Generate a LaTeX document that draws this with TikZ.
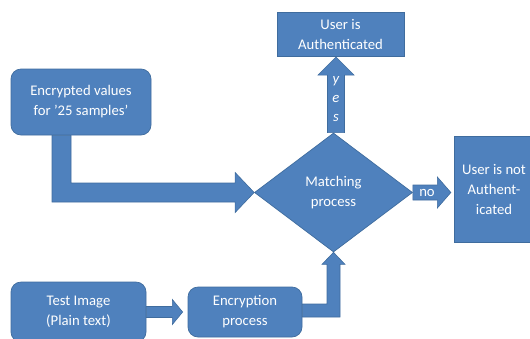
\documentclass[tikz,border=0pt]{standalone}
\usepackage{fontspec}
\setmainfont{Carlito}
\usetikzlibrary{shapes.geometric,calc,backgrounds}
\definecolor{boxfill}{HTML}{4F81BD}
\definecolor{boxline}{HTML}{3F6C9E}
\begin{document}
\begin{tikzpicture}[x=1pt,y=-1pt,
  every node/.style={font=\fontsize{14.7}{20}\selectfont, text=white, align=center, inner sep=0pt},
  blockbox/.style={fill=boxfill, draw=boxline, line width=0.7pt},
  roundbox/.style={blockbox, rectangle, rounded corners=10pt},
  sqbox/.style={blockbox, rectangle},
  blockarrow/.style={fill=boxfill, draw=boxline, line width=0.6pt, line join=miter}]
\useasboundingbox (0,0) rectangle (530,338);

% boxes
\node[roundbox, minimum width=140pt, minimum height=66pt] (enc) at (81,102) {Encrypted values\\for ’25 samples’};
\node[sqbox, minimum width=127pt, minimum height=44pt] (auth) at (340.5,34.7) {User is\\Authenticated};
\node[blockbox, diamond, minimum width=158pt, minimum height=119pt] (dia) at (333.5,192.5) {Matching\\process};
\node[sqbox, minimum width=80pt, minimum height=106pt] (notauth) at (494,189) {User is not\\Authent-\\icated};
\node[roundbox, minimum width=135pt, minimum height=60pt] (test) at (78.5,312) {Test Image\\(Plain text)};
\node[roundbox, minimum width=114pt, minimum height=50pt] (encp) at (245,312) {Encryption\\process};

% helper coordinates
\coordinate (e1) at ($(enc.south)+(-29,0)$);
\coordinate (e2) at ($(enc.south)+(-10,0)$);
\coordinate (a1) at ($(dia.west)+(-19,9.5)$);
\coordinate (a2) at ($(dia.west)+(-19,20)$);
\coordinate (a3) at ($(dia.west)+(-19,-20)$);
\coordinate (a4) at ($(dia.west)+(-19,-9.5)$);

\coordinate (yb) at ($(dia.north)+(2.5,0)$);
\coordinate (yt) at (yb |- auth.south);
\coordinate (yh) at ($(yt)+(0,18)$);

\coordinate (ub) at ($(dia.south)+(0,12)$);
\coordinate (ubl) at ($(ub)+(-6.5,0)$);
\coordinate (ubr) at ($(ub)+(6.5,0)$);
\coordinate (ua) at ($(encp.east)+(0,-8)$);
\coordinate (uc) at ($(encp.east)+(0,5)$);

\begin{scope}[on background layer]
% encrypted values -> matching
\filldraw[blockarrow] (e1) -- (e1 |- a1) -- (a1) -- (a2) -- (dia.west) -- (a3) -- (a4) -- (e2 |- a4) -- (e2) -- cycle;
% matching -> authenticated (yes)
\filldraw[blockarrow] ($(yb)+(-8.5,0)$) -- ($(yh)+(-8.5,0)$) -- ($(yh)+(-18,0)$) -- (yt) -- ($(yh)+(18,0)$) -- ($(yh)+(8.5,0)$) -- ($(yb)+(8.5,0)$) -- cycle;
% matching -> not authenticated (no)
\filldraw[blockarrow] ($(dia.east)+(0,-7.5)$) -- ($(dia.east)+(24.5,-7.5)$) -- ($(dia.east)+(24.5,-15.5)$) -- ($(dia.east)+(38,0)$) -- ($(dia.east)+(24.5,15.5)$) -- ($(dia.east)+(24.5,7.5)$) -- ($(dia.east)+(0,7.5)$) -- cycle;
% test image -> encryption
\filldraw[blockarrow] ($(test.east)+(0,-5.5)$) -- ($(test.east)+(26,-5.5)$) -- ($(test.east)+(26,-12.5)$) -- ($(encp.west)+(-5,0)$) -- ($(test.east)+(26,12.5)$) -- ($(test.east)+(26,5.5)$) -- ($(test.east)+(0,5.5)$) -- cycle;
% encryption -> matching
\filldraw[blockarrow] (ua) -- (ubl |- ua) -- (ubl) -- ($(ub)+(-11.5,0)$) -- (dia.south) -- ($(ub)+(11.5,0)$) -- (ubr) -- (ubr |- uc) -- (uc) -- cycle;
\end{scope}

% arrow labels
\node[font=\fontsize{14.7}{19}\selectfont\itshape] (yes) at (336,99) {y\\e\\s};
\node (no) at (427,193) {no};
\end{tikzpicture}
\end{document}
